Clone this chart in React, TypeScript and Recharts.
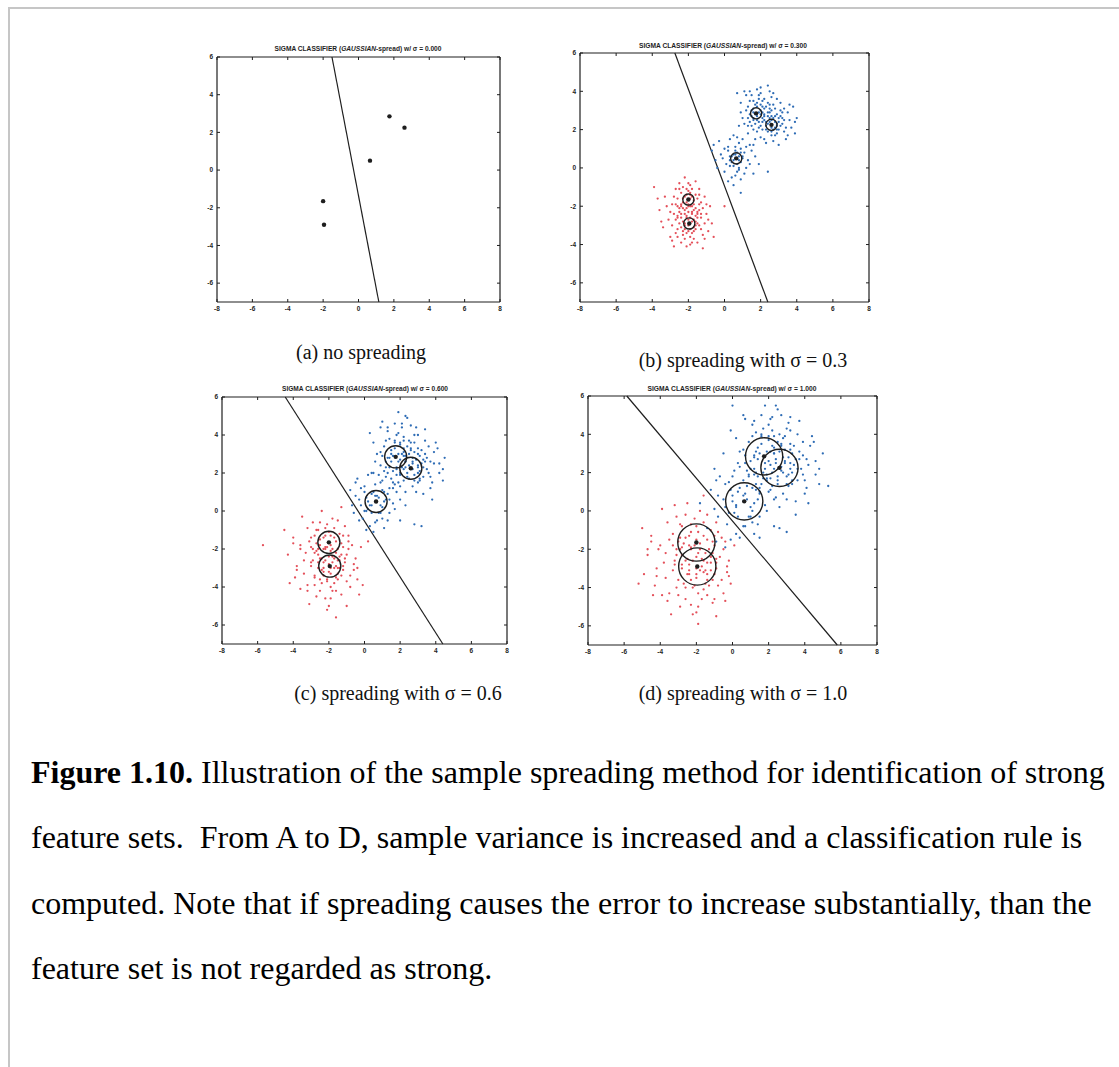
import React from 'react';
import { ScatterChart, Scatter, XAxis, YAxis, ReferenceLine } from 'recharts';

type Pt = [number, number];

const INK = '#1e1e1e';
const RED = '#e4505a';
const BLUE = '#2e6cb5';

const xTicks = [-8, -6, -4, -2, 0, 2, 4, 6, 8];
const yTicks = [-6, -4, -2, 0, 2, 4, 6];

// sample points (class 1 = blue, class 2 = red)
const blueCenters: Pt[] = [[1.75, 2.85], [2.6, 2.25], [0.65, 0.5]];
const redCenters: Pt[] = [[-2.0, -1.65], [-1.95, -2.9]];

// decision boundary end points per panel
const lineA: Pt[] = [[-1.5, 6], [1.15, -7]];
const lineB: Pt[] = [[-2.75, 6], [2.4, -7]];
const lineC: Pt[] = [[-4.45, 6], [4.4, -7]];
const lineD: Pt[] = [[-5.85, 6], [5.8, -7]];

const sigmas = [0, 0.3, 0.6, 1.0];
const titles = ['0.000', '0.300', '0.600', '1.000'];
const captions = ['(a) no spreading', '(b) spreading with σ = 0.3', '(c) spreading with σ = 0.6', '(d) spreading with σ = 1.0'];

const redB: Pt[] = [
  [-2.0, -1.2], [-1.7, -1.9], [-2.3, -2.1], [-1.5, -2.6], [-2.4, -3.1], [-1.8, -3.4], [-2.6, -1.6], [-1.3, -1.8], [-2.1, -2.5], [-1.9, -0.9],
  [-2.8, -2.4], [-1.6, -3.0], [-2.2, -3.7], [-1.4, -2.2], [-2.5, -0.8], [-1.1, -2.9], [-2.9, -1.9], [-1.8, -2.3], [-2.3, -2.8], [-1.6, -1.4],
  [-2.0, -3.3], [-2.7, -3.4], [-1.2, -3.5], [-3.1, -2.7], [-1.9, -4.0], [-2.4, -1.3], [-1.0, -2.4], [-3.3, -1.5], [-2.6, -2.6], [-1.5, -3.9],
  [-2.1, -1.8], [-1.7, -2.7], [-2.9, -3.0], [-0.8, -2.0], [-3.6, -2.2], [-2.2, -0.5], [-1.4, -1.1], [-2.7, -1.1], [-1.3, -3.2], [-2.4, -3.9],
  [-3.0, -3.6], [-0.9, -3.3], [-1.9, -1.6], [-2.0, -2.0], [-2.5, -2.3], [-1.7, -3.7], [-3.9, -1.0], [-0.6, -3.6], [-2.8, -4.1], [-1.1, -1.5],
  [-2.3, -1.6], [-1.8, -1.1], [-2.2, -3.2], [-1.6, -2.1], [-3.4, -3.1], [-1.2, -4.2], [0.0, -2.0], [-2.6, -2.0], [-1.9, -2.9], [-2.1, -2.6],
  [-1.8, -1.5], [-2.2, -2.2], [-1.5, -2.4], [-2.5, -2.9], [-1.9, -3.2], [-2.1, -1.4], [-1.6, -2.8], [-2.4, -1.9], [-1.3, -2.6], [-2.7, -2.7],
  [-2.0, -2.7], [-1.7, -2.2], [-2.3, -3.5], [-1.4, -3.0], [-2.8, -1.5], [-1.2, -2.1], [-2.6, -3.2], [-2.0, -0.8], [-1.5, -1.6], [-3.0, -2.3],
  [-1.8, -3.9], [-2.4, -2.4], [-1.1, -3.7], [-3.2, -2.0], [-2.1, -4.1], [-1.6, -0.7], [-0.9, -2.7], [-3.5, -2.8], [-2.5, -1.1], [-1.9, -2.0],
  [-2.2, -3.0], [-1.4, -1.4], [-2.9, -3.8], [-1.0, -1.9], [-3.7, -1.6], [-2.3, -1.0], [-1.7, -3.3], [-2.6, -3.6], [-0.7, -2.9], [-1.9, -1.3],
];
const redBCore: Pt[] = [
  [-2.0, -1.9], [-1.8, -2.4], [-2.2, -2.4], [-1.9, -2.6], [-2.1, -2.1], [-1.7, -1.7], [-2.3, -1.8], [-1.6, -2.5], [-2.4, -2.6], [-2.0, -3.0],
  [-1.8, -2.8], [-2.2, -2.9], [-1.5, -2.3], [-2.5, -2.1], [-1.9, -1.4], [-2.1, -3.4], [-1.7, -3.1], [-2.3, -3.3], [-1.4, -1.9], [-2.6, -2.5],
  [-1.8, -2.0], [-2.2, -1.5], [-1.6, -3.2], [-2.0, -2.3], [-2.4, -2.0], [-1.3, -2.4], [-2.7, -1.9], [-1.9, -3.6], [-2.1, -1.1], [-1.5, -2.9],
];

const blueB: Pt[] = [
  [1.7, 3.3], [2.1, 2.9], [2.5, 2.6], [1.4, 2.4], [2.8, 3.1], [3.0, 2.0], [1.9, 3.6], [2.3, 2.2], [1.2, 3.0], [2.6, 1.7],
  [3.3, 2.5], [1.6, 2.0], [2.0, 3.9], [2.9, 2.8], [1.0, 2.6], [3.5, 2.9], [2.4, 3.4], [1.5, 3.8], [2.7, 1.4], [3.7, 2.1],
  [1.3, 1.8], [2.2, 2.7], [1.8, 2.5], [3.1, 3.4], [0.9, 3.4], [2.5, 4.0], [3.9, 1.8], [1.1, 4.0], [2.0, 1.6], [3.4, 1.5],
  [2.6, 3.0], [1.9, 2.1], [2.3, 3.2], [3.2, 2.3], [1.6, 3.1], [2.8, 2.4], [2.1, 2.4], [1.4, 3.5], [3.0, 1.2], [4.0, 2.6],
  [0.8, 2.2], [2.4, 4.3], [1.2, 3.8], [3.6, 3.3], [2.9, 1.8], [1.7, 1.5], [2.2, 3.6], [3.3, 1.9], [1.5, 2.7], [2.7, 2.0],
  [1.9, 2.9], [2.5, 2.4], [2.0, 3.3], [3.1, 2.7], [1.3, 2.2], [2.6, 3.7], [0.7, 3.9], [3.8, 3.2], [2.3, 1.3], [1.8, 4.1],
  [2.0, 2.8], [2.4, 2.9], [1.6, 2.6], [2.9, 2.2], [2.2, 3.1], [1.8, 3.2], [2.6, 2.7], [3.2, 2.9], [1.5, 2.2], [2.3, 2.4],
  [2.7, 3.3], [1.9, 3.8], [3.0, 2.6], [2.1, 2.0], [1.3, 3.2], [3.4, 2.1], [2.5, 3.1], [1.7, 2.8], [2.8, 1.7], [2.0, 4.2],
  [3.6, 2.5], [1.1, 2.3], [2.4, 1.9], [3.1, 3.0], [1.6, 3.5], [2.9, 3.6], [0.9, 2.9], [3.5, 1.7], [2.2, 1.5], [1.4, 4.0],
  [2.6, 2.1], [3.3, 3.1], [1.8, 1.9], [2.1, 3.5], [3.9, 2.4], [2.7, 3.9],
  [0.6, 0.9], [0.9, 0.3], [0.3, 0.6], [1.1, 0.8], [0.5, 0.1], [0.8, 1.3], [0.1, 0.2], [1.3, 0.4], [0.7, -0.2], [0.2, 1.1],
  [1.0, 1.5], [-0.2, 0.7], [1.5, 0.9], [0.4, -0.5], [1.2, 0.0], [0.6, 0.5], [-0.5, 0.4], [0.9, -0.6], [1.7, 0.6], [0.0, -0.2],
  [0.3, 1.5], [1.4, 1.2], [-0.7, 0.9], [0.8, 0.6], [0.5, 1.7], [1.6, -0.3], [0.2, -0.7], [2.4, -0.2], [0.9, -1.3], [-0.3, 1.4],
  [0.7, 0.8], [0.4, 0.3], [1.0, 0.5], [0.5, 0.7], [0.8, 0.0], [0.2, 0.9], [1.2, 1.1], [0.6, -0.4], [-0.1, 0.5], [1.4, 0.2],
  [0.9, 1.0], [0.3, 0.1], [1.1, -0.3], [0.0, 1.0], [0.7, 1.6], [1.6, 1.2], [-0.4, 0.0], [0.5, -0.9], [1.9, 0.2], [-0.6, 1.2],
];
const blueBCore: Pt[] = [
  [1.8, 2.7], [2.0, 3.0], [2.4, 2.3], [2.7, 2.6], [1.6, 2.9], [2.2, 2.5], [2.9, 2.3], [1.9, 2.4], [2.5, 2.9], [2.3, 2.0],
  [1.5, 3.0], [2.8, 2.1], [2.1, 3.2], [2.6, 2.5], [1.7, 2.3], [3.0, 2.4], [2.4, 2.7], [1.4, 2.8], [2.9, 2.0], [2.0, 2.2],
  [2.2, 2.8], [2.6, 1.9], [1.8, 3.4], [3.1, 2.2], [2.5, 3.3], [1.6, 2.5], [2.1, 2.6], [2.8, 2.7], [1.3, 2.6], [3.2, 2.6],
  [0.6, 0.7], [0.8, 0.4], [0.5, 0.4], [0.9, 0.8], [0.4, 0.6], [0.7, 0.2], [1.0, 0.6], [0.3, 0.4], [0.6, 1.1], [0.8, -0.1],
];

const redC: Pt[] = [
  [-2.0, -1.1], [-1.5, -2.0], [-2.6, -2.3], [-1.2, -2.9], [-2.8, -3.4], [-1.7, -3.8], [-3.0, -1.4], [-0.9, -1.6], [-2.3, -2.7], [-1.8, -0.4],
  [-3.4, -2.6], [-1.3, -3.4], [-2.5, -4.2], [-1.0, -2.3], [-2.9, -0.6], [-0.6, -3.1], [-3.6, -1.8], [-1.8, -2.4], [-2.4, -3.1], [-1.4, -1.2],
  [-2.1, -3.6], [-3.2, -3.9], [-0.8, -4.0], [-3.8, -2.9], [-1.9, -4.6], [-2.6, -1.0], [-0.5, -2.5], [-4.0, -1.4], [-3.0, -2.7], [-1.3, -4.4],
  [-2.2, -1.9], [-1.6, -2.9], [-3.4, -3.3], [-0.2, -1.9], [-4.3, -2.3], [-2.4, 0.0], [-1.1, -0.8], [-3.2, -0.9], [-1.0, -3.7], [-2.7, -4.5],
  [-3.6, -4.1], [-0.4, -3.6], [-2.0, -1.7], [-1.9, -2.1], [-2.7, -2.1], [-1.6, -4.2], [-4.5, -1.0], [-0.1, -3.9], [-3.1, -4.9], [-0.9, -1.3],
  [-2.5, -1.5], [-1.7, -0.9], [-2.3, -3.4], [-1.4, -2.6], [-3.9, -3.5], [-1.0, -5.0], [0.2, -1.6], [-2.9, -2.0], [-1.9, -3.0], [-2.2, -2.6],
  [-5.7, -1.8], [-1.6, -5.6], [-0.3, -4.4], [-3.5, -0.3], [-2.1, -5.2], [-1.3, 0.2], [-4.2, -3.8], [-2.8, -1.3],
  [-1.7, -1.4], [-2.3, -2.0], [-1.4, -2.4], [-2.6, -3.0], [-1.9, -3.3], [-2.2, -1.3], [-1.5, -3.0], [-2.7, -1.7], [-1.1, -2.7], [-3.0, -2.9],
  [-2.0, -2.8], [-1.6, -2.2], [-2.4, -3.8], [-1.2, -3.1], [-3.1, -1.6], [-0.9, -2.0], [-2.8, -3.5], [-2.1, -0.7], [-1.3, -1.7], [-3.3, -2.2],
  [-1.8, -4.2], [-2.5, -2.5], [-0.8, -3.4], [-3.6, -2.0], [-2.2, -4.6], [-1.5, -0.5], [-0.6, -2.8], [-3.8, -3.1], [-2.7, -1.0], [-1.9, -1.8],
  [-2.3, -3.2], [-1.2, -1.3], [-3.2, -4.2], [-0.7, -1.8], [-4.0, -1.7], [-2.5, -0.6], [-1.6, -3.5], [-2.8, -3.9], [-0.4, -3.0], [-2.0, -5.0],
];
const redCCore: Pt[] = [
  [-2.1, -1.9], [-1.7, -2.5], [-2.4, -2.5], [-1.8, -2.7], [-2.2, -2.0], [-1.6, -1.6], [-2.5, -1.8], [-1.5, -2.6], [-2.6, -2.7], [-2.0, -3.2],
  [-1.7, -3.0], [-2.3, -3.0], [-1.3, -2.3], [-2.8, -2.2], [-1.9, -1.3], [-2.1, -3.7], [-1.5, -3.3], [-2.5, -3.6], [-1.2, -1.9], [-2.9, -2.6],
  [-1.8, -2.0], [-2.3, -1.4], [-1.5, -3.6], [-2.0, -2.4], [-2.6, -2.0], [-1.1, -2.5], [-3.0, -1.9], [-1.9, -4.0], [-2.2, -0.9], [-1.4, -3.0],
];

const blueC: Pt[] = [
  [1.7, 3.6], [2.2, 2.9], [2.7, 2.5], [1.2, 2.3], [3.0, 3.3], [3.3, 1.8], [1.9, 4.1], [2.4, 2.0], [0.9, 3.1], [2.7, 1.3],
  [3.7, 2.6], [1.5, 1.7], [2.1, 4.4], [3.1, 2.9], [0.6, 2.6], [3.9, 3.1], [2.5, 3.7], [1.3, 4.2], [2.9, 1.0], [4.2, 2.0],
  [1.0, 1.6], [2.3, 2.6], [1.8, 2.2], [3.4, 3.7], [0.5, 3.6], [2.6, 4.5], [4.4, 1.6], [0.9, 4.4], [2.0, 1.3], [3.7, 1.2],
  [2.8, 3.1], [1.8, 1.9], [2.4, 3.4], [3.5, 2.2], [1.5, 3.2], [3.0, 2.3], [2.1, 2.3], [1.2, 3.7], [3.3, 0.9], [4.5, 2.8],
  [0.4, 2.0], [2.4, 4.9], [1.0, 4.7], [4.0, 3.6], [3.1, 1.6], [1.6, 1.2], [2.2, 3.9], [3.7, 1.8], [1.3, 2.8], [2.8, 1.9],
  [1.9, 3.0], [2.6, 2.2], [2.0, 3.5], [3.3, 2.7], [1.1, 2.1], [2.8, 4.0], [0.3, 4.1], [4.1, 3.3], [2.3, 1.0], [1.7, 4.6],
  [2.3, 5.0], [3.4, 4.3], [1.9, 5.2], [4.4, 2.2], [3.8, 0.6],
  [2.0, 2.7], [2.5, 3.0], [1.5, 2.6], [3.0, 2.0], [2.2, 3.3], [1.7, 3.3], [2.7, 2.8], [3.4, 3.0], [1.3, 2.0], [2.3, 2.3],
  [2.8, 3.6], [1.8, 4.0], [3.2, 2.5], [2.0, 1.9], [1.1, 3.4], [3.6, 2.0], [2.6, 3.3], [1.6, 2.9], [3.0, 1.5], [2.1, 4.6],
  [3.9, 2.5], [0.9, 2.4], [2.5, 1.7], [3.2, 3.2], [1.4, 3.8], [3.0, 4.0], [0.7, 3.0], [3.8, 1.5], [2.2, 1.6], [1.3, 4.4],
  [2.7, 2.2], [3.6, 3.4], [1.6, 1.5], [2.2, 3.7], [4.2, 2.5], [2.9, 4.4],
  [0.5, 1.0], [1.0, 0.2], [0.1, 0.7], [1.3, 0.9], [0.4, -0.1], [0.9, 1.5], [-0.2, 0.3], [1.6, 0.4], [0.7, -0.5], [0.0, 1.3],
  [1.2, 1.8], [-0.5, 0.8], [1.8, 1.0], [0.3, -0.8], [1.4, -0.1], [0.6, 0.5], [-0.7, 0.3], [1.1, -0.9], [2.0, 0.6], [-0.1, -0.4],
  [0.2, 1.9], [1.7, 1.4], [-0.8, 1.1], [0.8, 0.7], [0.5, 2.0], [2.0, -0.5], [0.1, -1.0], [2.8, -0.7], [3.2, -0.8], [-0.4, 1.7],
  [0.0, 0.0], [1.4, 0.6], [-0.3, -0.5],
  [0.7, 0.8], [0.3, 0.3], [1.1, 0.5], [0.4, 0.9], [0.9, -0.1], [0.0, 1.0], [1.4, 1.2], [0.6, -0.6], [-0.3, 0.6], [1.7, 0.1],
  [1.0, 1.1], [0.2, 0.1], [1.3, -0.5], [-0.2, 1.2], [0.8, 1.9], [1.9, 1.5], [-0.6, -0.1], [0.5, -1.1], [2.3, 0.3], [-0.5, 1.5],
];
const blueCCore: Pt[] = [
  [1.9, 2.6], [2.2, 3.1], [2.5, 2.4], [2.9, 2.7], [1.5, 3.0], [2.3, 2.6], [3.1, 2.1], [1.8, 2.3], [2.6, 3.2], [2.4, 1.8],
  [1.4, 2.8], [3.0, 2.4], [2.0, 3.6], [2.7, 2.6], [1.6, 2.1], [3.3, 2.3], [2.3, 2.9], [1.2, 2.6], [3.1, 1.7], [2.0, 2.0],
  [2.1, 3.0], [2.8, 1.6], [1.7, 3.7], [3.4, 2.6], [2.6, 3.6], [1.4, 2.3], [2.2, 2.2], [3.0, 3.0], [1.0, 2.9], [3.5, 2.8],
  [0.6, 0.8], [0.9, 0.3], [0.4, 0.3], [1.1, 1.0], [0.2, 0.5], [0.8, -0.1], [1.2, 0.6], [0.1, 0.0], [0.6, 1.4], [1.0, -0.4],
];

const redD: Pt[] = [
  [-2.0, -0.8], [-1.3, -2.0], [-2.8, -2.3], [-0.9, -3.0], [-3.0, -3.6], [-1.6, -4.1], [-3.3, -1.2], [-0.6, -1.4], [-2.4, -2.8], [-1.8, 0.0],
  [-3.8, -2.7], [-1.1, -3.6], [-2.6, -4.6], [-0.7, -2.4], [-3.1, -0.3], [-0.3, -3.2], [-4.0, -1.8], [-1.7, -2.5], [-2.5, -3.3], [-1.2, -1.0],
  [-2.1, -3.9], [-3.5, -4.3], [-0.5, -4.3], [-4.2, -3.0], [-1.9, -5.0], [-2.8, -0.8], [-0.2, -2.6], [-4.5, -1.3], [-3.2, -2.8], [-1.1, -4.8],
  [-2.3, -2.0], [-1.5, -3.1], [-3.7, -3.5], [0.1, -1.8], [-4.7, -2.3], [-2.5, 0.4], [-0.9, -0.6], [-3.6, -0.6], [-0.8, -3.9], [-2.9, -5.0],
  [-3.9, -4.4], [-0.1, -3.8], [-2.0, -1.5], [-1.9, -2.2], [-2.9, -2.0], [-1.4, -4.4], [-5.0, -0.9], [-4.9, -3.3], [-3.4, -5.4], [-0.8, -1.1],
  [-2.6, -1.4], [-1.6, -0.6], [-2.3, -3.6], [-1.2, -2.7], [-4.3, -3.9], [-0.9, -5.5], [-1.9, -5.9], [-3.1, -2.0], [-1.8, -3.1], [-2.2, -2.6],
  [-4.7, -2.0], [-1.0, -4.6], [-0.4, -4.7], [-3.9, 0.1], [-2.2, -5.4], [-1.6, 0.8], [-4.4, -4.4], [-2.9, -1.4], [-5.2, -3.8], [-3.2, 0.3],
  [-1.6, -1.3], [-2.4, -1.8], [-1.2, -2.4], [-2.8, -3.0], [-2.0, -3.5], [-2.3, -1.1], [-1.4, -3.3], [-3.0, -1.6], [-0.9, -2.7], [-3.3, -3.1],
  [-2.0, -3.0], [-1.5, -2.2], [-2.6, -4.0], [-1.0, -3.3], [-3.5, -1.5], [-0.5, -2.0], [-3.1, -4.0], [-2.1, -0.4], [-1.1, -1.6], [-3.7, -2.2],
  [-1.7, -4.6], [-2.6, -2.6], [-0.6, -3.6], [-4.1, -2.0], [-2.3, -4.9], [-1.4, -0.2], [-0.3, -2.9], [-4.2, -3.4], [-2.9, -0.7], [-1.8, -1.7],
  [-2.4, -3.3], [-1.0, -1.3], [-3.6, -4.7], [-0.4, -1.6], [-4.5, -1.6], [-2.6, -0.2], [-1.5, -3.8], [-3.0, -4.4], [-0.2, -3.4], [-2.0, -5.3],
];
const redDCore: Pt[] = [
  [-2.1, -1.8], [-1.6, -2.6], [-2.5, -2.5], [-1.7, -2.9], [-2.3, -1.9], [-1.4, -1.5], [-2.7, -1.7], [-1.4, -2.7], [-2.8, -2.8], [-2.0, -3.3],
  [-1.6, -3.2], [-2.4, -3.1], [-1.1, -2.2], [-3.1, -2.3], [-1.9, -1.1], [-2.2, -4.0], [-1.4, -3.6], [-2.7, -3.8], [-1.0, -1.8], [-3.2, -2.6],
  [-1.8, -2.0], [-2.4, -1.3], [-1.3, -3.9], [-2.0, -2.4], [-2.8, -1.9], [-0.9, -2.5], [-3.3, -1.8], [-1.9, -4.3], [-2.3, -0.7], [-1.2, -3.1],
];

const blueD: Pt[] = [
  [1.6, 3.9], [2.3, 3.0], [2.9, 2.5], [1.0, 2.2], [3.2, 3.5], [3.6, 1.6], [2.0, 4.5], [2.5, 1.8], [0.6, 3.2], [2.8, 0.9],
  [4.1, 2.7], [1.3, 1.4], [2.2, 4.9], [3.3, 3.0], [0.3, 2.5], [4.3, 3.4], [2.6, 4.0], [1.1, 4.5], [3.0, 0.6], [4.6, 1.9],
  [0.8, 1.3], [2.4, 2.7], [1.8, 2.2], [3.6, 4.0], [0.2, 3.8], [2.7, 5.0], [4.8, 1.4], [0.7, 4.8], [2.0, 1.0], [4.0, 0.9],
  [2.9, 3.2], [1.7, 1.7], [2.5, 3.6], [3.8, 2.2], [1.4, 3.3], [3.2, 2.2], [2.1, 2.4], [1.1, 3.9], [3.5, 0.5], [5.0, 3.0],
  [0.0, 1.8], [2.5, 5.3], [0.6, 5.0], [4.4, 3.9], [3.3, 1.4], [1.5, 0.9], [2.2, 4.2], [4.0, 1.6], [1.2, 2.8], [3.0, 1.8],
  [1.9, 3.1], [2.7, 2.1], [2.0, 3.7], [3.5, 2.7], [0.9, 1.9], [3.0, 4.3], [-0.1, 4.2], [4.5, 3.6], [2.4, 0.7], [1.6, 5.0],
  [2.4, 5.5], [3.7, 4.7], [1.8, 5.5], [4.8, 2.2], [5.3, 1.3], [-0.5, 3.0], [-1.0, 2.2], [4.2, 0.4], [0.0, 5.5], [3.2, 4.9],
  [2.0, 2.6], [2.6, 3.1], [1.4, 2.7], [3.1, 1.9], [2.2, 3.4], [1.6, 3.5], [2.8, 2.8], [3.7, 3.1], [1.2, 1.9], [2.3, 2.2],
  [2.9, 3.9], [1.7, 4.3], [3.4, 2.4], [1.9, 1.7], [0.9, 3.6], [3.9, 1.9], [2.7, 3.4], [1.5, 3.0], [3.1, 1.3], [2.1, 4.8],
  [4.2, 2.4], [0.7, 2.5], [2.5, 1.4], [3.4, 3.4], [1.3, 4.1], [3.2, 4.2], [0.4, 3.1], [4.1, 1.2], [2.2, 1.3], [1.2, 4.7],
  [2.8, 2.0], [3.9, 3.6], [1.5, 1.2], [2.3, 3.9], [4.6, 2.6], [3.1, 4.6],
  [0.4, 1.2], [1.1, 0.0], [0.0, 0.8], [1.5, 1.0], [0.3, -0.3], [0.9, 1.8], [-0.4, 0.2], [1.8, 0.3], [0.7, -0.8], [-0.2, 1.5],
  [1.3, 2.0], [-0.8, 0.8], [2.1, 1.1], [0.2, -1.2], [1.5, -0.3], [0.6, 0.5], [-1.0, 0.1], [1.2, -1.2], [2.3, 0.6], [-0.3, -0.7],
  [0.1, 2.1], [1.9, 1.6], [-1.2, 1.1], [0.8, 0.6], [0.4, 2.3], [2.3, -0.8], [-0.1, -1.5], [2.6, -0.9], [3.0, -1.1], [-0.7, 1.8],
  [-1.4, -0.9], [-0.9, -1.6], [-0.4, -1.9], [1.5, -1.4], [3.5, -0.2], [-1.8, 0.4],
  [0.7, 0.9], [0.2, 0.3], [1.2, 0.4], [0.3, 1.0], [1.0, -0.3], [-0.1, 1.1], [1.6, 1.4], [0.6, -0.8], [-0.5, 0.6], [1.9, 0.0],
  [1.1, 1.2], [0.1, -0.1], [1.4, -0.7], [-0.4, 1.4], [0.8, 2.1], [2.1, 1.7], [-0.8, -0.3], [0.4, -1.4], [2.6, 0.2], [-0.9, 1.6],
];
const blueDCore: Pt[] = [
  [1.8, 2.5], [2.3, 3.3], [2.7, 2.3], [3.1, 2.8], [1.3, 3.1], [2.4, 2.5], [3.3, 2.0], [1.7, 2.0], [2.7, 3.5], [2.5, 1.6],
  [1.2, 2.9], [3.2, 2.5], [2.0, 3.9], [2.9, 2.6], [1.4, 1.8], [3.6, 2.2], [2.3, 3.0], [1.0, 2.6], [3.3, 1.6], [1.9, 1.9],
  [2.1, 3.1], [3.0, 1.4], [1.6, 4.0], [3.7, 2.7], [2.8, 3.8], [1.2, 2.2], [2.2, 2.0], [3.2, 3.2], [0.7, 2.9], [3.9, 2.9],
  [0.6, 0.8], [1.0, 0.2], [0.2, 0.2], [1.3, 1.1], [0.0, 0.5], [0.9, -0.3], [1.4, 0.6], [-0.2, -0.1], [0.6, 1.6], [1.1, -0.6],
];

const TICK_FONT = { fontSize: 6.5, fontWeight: 700, fontFamily: 'Liberation Sans, Arial, sans-serif', fill: INK };

const BottomTick = (p: any) => (
  <g>
    <line x1={p.x} y1={p.y - 4} x2={p.x} y2={p.y - 7} stroke={INK} />
    <text x={p.x} y={p.y + 4.5} textAnchor="middle" {...TICK_FONT}>{p.payload.value}</text>
  </g>
);
const LeftTick = (p: any) => (
  <g>
    <line x1={p.x + 4} y1={p.y} x2={p.x + 7} y2={p.y} stroke={INK} />
    <text x={p.x} y={p.y + 2.3} textAnchor="end" {...TICK_FONT}>{p.payload.value}</text>
  </g>
);
const TopTick = (p: any) => <line x1={p.x} y1={p.y} x2={p.x} y2={p.y + 3} stroke={INK} />;
const RightTick = (p: any) => <line x1={p.x} y1={p.y} x2={p.x - 3} y2={p.y} stroke={INK} />;

const toObj = (a: Pt[]) => a.map(([x, y]) => ({ x, y }));

interface PanelProps {
  left: number;
  top: number;
  w: number;
  h: number;
  sigma: number;
  red: Pt[];
  blue: Pt[];
  line: Pt[];
}

function Panel({ left, top, w, h, sigma, red, blue, line }: PanelProps) {
  const rad = (sigma * (w / 16 + h / 13)) / 2;
  const centers = [...blueCenters, ...redCenters];
  const axisLine = { stroke: INK, strokeWidth: 1.2 };
  const common = { type: 'number' as const, allowDataOverflow: true, interval: 0 as const, tickLine: false, axisLine };
  return (
    <div style={{ position: 'absolute', left: left - 30, top: top - 10 }}>
      <ScatterChart width={w + 40} height={h + 30} margin={{ top: 9, right: 9, bottom: 0, left: 0 }}>
        <XAxis xAxisId="b" dataKey="x" orientation="bottom" domain={[-8, 8]} ticks={xTicks} height={20} tickSize={0} tickMargin={4} tick={BottomTick} {...common} />
        <XAxis xAxisId="t" dataKey="x" orientation="top" domain={[-8, 8]} ticks={xTicks} height={1} tickSize={0} tickMargin={0} tick={TopTick} {...common} />
        <YAxis yAxisId="l" dataKey="y" orientation="left" domain={[-7, 6]} ticks={yTicks} width={30} tickSize={0} tickMargin={4} tick={LeftTick} {...common} />
        <YAxis yAxisId="r" dataKey="y" orientation="right" domain={[-7, 6]} ticks={yTicks} width={1} tickSize={0} tickMargin={0} tick={RightTick} {...common} />
        {/* keeps the top / right frame axes tied to a series */}
        <Scatter xAxisId="t" yAxisId="r" data={toObj(centers)} isAnimationActive={false} shape={() => <g />} />
        <Scatter xAxisId="b" yAxisId="l" data={toObj(red)} fill={RED} isAnimationActive={false}
          shape={(p: any) => <circle cx={p.cx} cy={p.cy} r={1.15} fill={RED} />} />
        <Scatter xAxisId="b" yAxisId="l" data={toObj(blue)} fill={BLUE} isAnimationActive={false}
          shape={(p: any) => <circle cx={p.cx} cy={p.cy} r={1.15} fill={BLUE} />} />
        <ReferenceLine xAxisId="b" yAxisId="l" segment={line.map(([x, y]) => ({ x, y }))} stroke={INK} strokeWidth={1.2} />
        {sigma > 0 && (
          <Scatter xAxisId="b" yAxisId="l" data={toObj(centers)} isAnimationActive={false}
            shape={(p: any) => <circle cx={p.cx} cy={p.cy} r={rad} fill="none" stroke={INK} strokeWidth={1.4} />} />
        )}
        <Scatter xAxisId="b" yAxisId="l" data={toObj(centers)} fill={INK} isAnimationActive={false}
          shape={(p: any) => <circle cx={p.cx} cy={p.cy} r={2.2} fill={INK} />} />
      </ScatterChart>
    </div>
  );
}

function Title({ cx, baseline, value, width }: { cx: number; baseline: number; value: string; width: number }) {
  return (
    <svg style={{ position: 'absolute', left: cx - 100, top: baseline - 8 }} width={200} height={10}>
      <text x={100} y={8} textAnchor="middle" fontSize={6.5} fontWeight={700} fontFamily="Liberation Sans, Arial, sans-serif" fill={INK}
        textLength={width} lengthAdjust="spacingAndGlyphs">
        SIGMA CLASSIFIER (<tspan fontStyle="italic">GAUSSIAN</tspan>-spread) w/ σ = {value}
      </text>
    </svg>
  );
}

function Caption({ cx, baseline, text }: { cx: number; baseline: number; text: string }) {
  return (
    <div style={{ position: 'absolute', left: cx - 150, top: baseline - 17, width: 300, textAlign: 'center', fontFamily: 'Liberation Serif, Times New Roman, serif', fontSize: 20, lineHeight: '20px', color: '#111', whiteSpace: 'pre' }}>
      {text}
    </div>
  );
}

const serif = 'Liberation Serif, Times New Roman, serif';

export default function App() {
  const lines = [
    'feature sets.  From A to D, sample variance is increased and a classification rule is',
    'computed. Note that if spreading causes the error to increase substantially, than the',
    'feature set is not regarded as strong.',
  ];
  const textStyle = { position: 'absolute' as const, left: 31, fontFamily: serif, fontSize: 32, lineHeight: '32px', color: '#000', whiteSpace: 'pre' as const };
  return (
    <div style={{ position: 'absolute', left: 0, top: 0, width: 1119, height: 1067, overflow: 'hidden', background: '#fff' }}>
      <div style={{ position: 'absolute', left: 8, top: 7, width: 1111, height: 1060, boxSizing: 'border-box', borderTop: '2px solid #c6c6c6', borderLeft: '2px solid #c6c6c6' }} />

      <Title cx={358} baseline={50.5} value={titles[0]} width={167} />
      <Title cx={723} baseline={47.5} value={titles[1]} width={168} />
      <Title cx={365} baseline={390.5} value={titles[2]} width={166} />
      <Title cx={732} baseline={390.5} value={titles[3]} width={169} />

      <Panel left={217} top={57} w={283} h={245} sigma={sigmas[0]} red={[]} blue={[]} line={lineA} />
      <Panel left={580} top={53} w={289} h={249} sigma={sigmas[1]} red={[...redB, ...redBCore]} blue={[...blueB, ...blueBCore]} line={lineB} />
      <Panel left={222} top={397} w={285} h={247} sigma={sigmas[2]} red={[...redC, ...redCCore]} blue={[...blueC, ...blueCCore]} line={lineC} />
      <Panel left={588} top={396} w={289} h={249} sigma={sigmas[3]} red={[...redD, ...redDCore]} blue={[...blueD, ...blueDCore]} line={lineD} />

      <Caption cx={361} baseline={359} text={captions[0]} />
      <Caption cx={743} baseline={367} text={captions[1]} />
      <Caption cx={398} baseline={700} text={captions[2]} />
      <Caption cx={743} baseline={700} text={captions[3]} />

      <div style={{ ...textStyle, top: 756 }}>
        <b>Figure 1.10.</b> Illustration of the sample spreading method for identification of strong
      </div>
      {lines.map((t, i) => (
        <div key={i} style={{ ...textStyle, top: 756 + 65.3 * (i + 1) }}>
          {t}
        </div>
      ))}
    </div>
  );
}
